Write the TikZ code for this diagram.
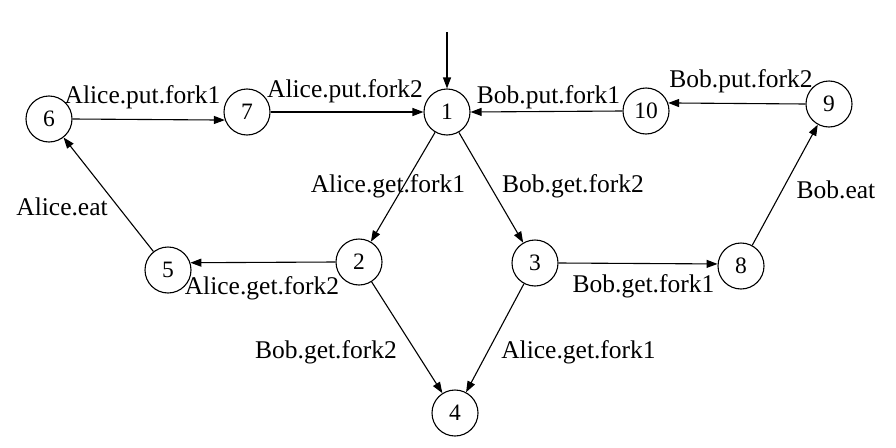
\documentclass[tikz,border=0pt]{standalone}
\usepackage{fontspec}
\setmainfont{Liberation Serif}
\usetikzlibrary{arrows.meta}
\begin{document}
\begin{tikzpicture}[x=1pt,y=-1pt,
  st/.style={circle,draw,line width=1.1pt,minimum size=46pt,inner sep=0pt,font=\fontsize{23.5}{23.5}\selectfont},
  lbl/.style={anchor=base,inner sep=0pt,font=\fontsize{25.5}{25.5}\selectfont},
  tr/.style={draw,line width=1.1pt,-{Triangle[length=11pt,width=8pt]}}]
\useasboundingbox (0,0) rectangle (896,447);
\node[st] (n1) at (447,112) {1};
\node[st] (n2) at (359,262) {2};
\node[st] (n3) at (535,263) {3};
\node[st] (n4) at (455,413) {4};
\node[st] (n5) at (168,270) {5};
\node[st] (n6) at (49,119) {6};
\node[st] (n7) at (247,112) {7};
\node[st] (n8) at (741,266) {8};
\node[st] (n9) at (829,104) {9};
\node[st] (n10) at (646,111) {10};
\coordinate (s) at (447,32);
\draw[tr] (s) -- (n1);
\draw[tr] (n6.east) -- (n7.200);
\draw[tr] (n7.east) -- (n1.west);
\draw[tr] (n10.west) -- (n1.east);
\draw[tr] (n9.west) -- (n10.20);
\draw[tr] (n1) -- (n2);
\draw[tr] (n1) -- (n3);
\draw[tr] (n2.west) -- (n5.18);
\draw[tr] (n3.east) -- (n8.175);
\draw[tr] (n5) -- (n6);
\draw[tr] (n8) -- (n9);
\draw[tr] (n2) -- (n4);
\draw[tr] (n3) -- (n4);
\node[lbl] (l1) at (142.5,103) {Alice.put.fork1};
\node[lbl] (l2) at (345,97) {Alice.put.fork2};
\node[lbl] (l3) at (548.5,103) {Bob.put.fork1};
\node[lbl] (l4) at (741,87) {Bob.put.fork2};
\node[lbl] (l5) at (836,198) {Bob.eat};
\node[lbl] (l6) at (388,192) {Alice.get.fork1};
\node[lbl] (l7) at (573,192) {Bob.get.fork2};
\node[lbl] (l8) at (62,215) {Alice.eat};
\node[lbl] (l9) at (262,294) {Alice.get.fork2};
\node[lbl] (l10) at (643.5,292) {Bob.get.fork1};
\node[lbl] (l11) at (326,358) {Bob.get.fork2};
\node[lbl] (l12) at (578.5,358) {Alice.get.fork1};
\end{tikzpicture}
\end{document}
